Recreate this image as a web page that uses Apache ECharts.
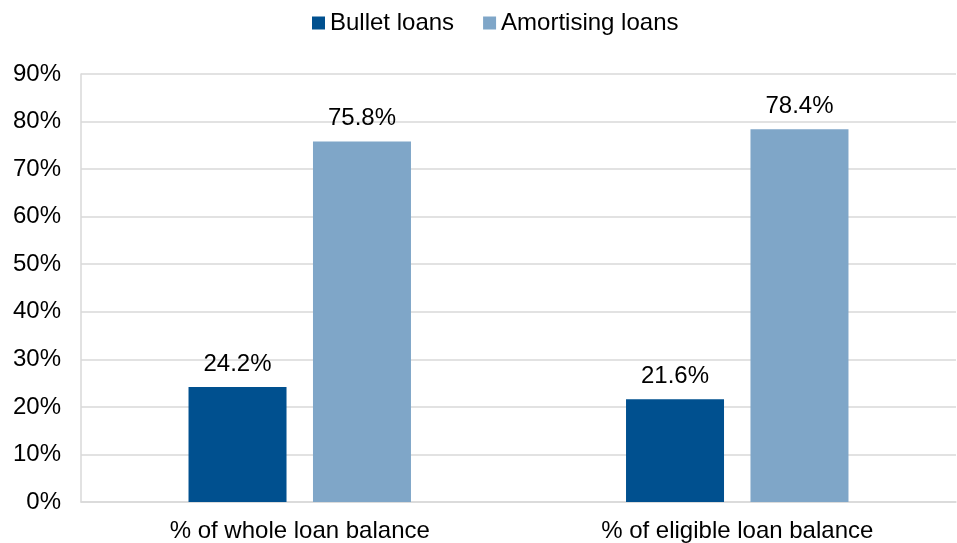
<!DOCTYPE html>
<html><head><meta charset="utf-8">
<script src="https://cdn.jsdelivr.net/npm/echarts@6/dist/echarts.min.js"></script>
<style>html,body{margin:0;padding:0;background:#fff}#c{width:957px;height:543px}</style>
</head><body><div id="c"></div>
<script>
const categories = ['% of whole loan balance', '% of eligible loan balance'];
const bulletLoans = [24.2, 21.6];
const amortisingLoans = [75.8, 78.4];
const seriesNames = ['Bullet loans', 'Amortising loans'];

const font = 'Liberation Sans, Arial, sans-serif';
const fs = 24;
const chart = echarts.init(document.getElementById('c'));
chart.setOption({
  animation: false,
  textStyle: { fontFamily: font },
  legend: {
    top: 11, left: 312, itemWidth: 13, itemHeight: 13, itemGap: 29,
    icon: 'rect', padding: 0,
    textStyle: { fontSize: fs, color: '#000', fontFamily: font },
    data: seriesNames
  },
  grid: { left: 81, right: 1, top: 74, bottom: 40, containLabel: false },
  xAxis: {
    type: 'category', data: categories,
    axisLine: { lineStyle: { color: '#d9d9d9', width: 1.5 } },
    axisTick: { show: false },
    axisLabel: { fontSize: fs, color: '#000', margin: 17, fontFamily: font }
  },
  yAxis: {
    type: 'value', min: 0, max: 90, interval: 10,
    axisLine: { show: true, lineStyle: { color: '#d9d9d9', width: 1.5 } },
    axisTick: { show: false },
    splitLine: { lineStyle: { color: '#d9d9d9', width: 1.5 } },
    axisLabel: { fontSize: fs, color: '#000', margin: 20, formatter: '{value}%', fontFamily: font }
  },
  series: [
    { name: seriesNames[0], type: 'bar', data: bulletLoans, barWidth: 98, barGap: '27%',
      itemStyle: { color: '#00508F' },
      label: { show: true, position: 'top', distance: 11, fontSize: fs, color: '#000', formatter: p => p.value.toFixed(1) + '%', fontFamily: font } },
    { name: seriesNames[1], type: 'bar', data: amortisingLoans, barWidth: 98,
      itemStyle: { color: '#7FA6C8' },
      label: { show: true, position: 'top', distance: 11, fontSize: fs, color: '#000', formatter: p => p.value.toFixed(1) + '%', fontFamily: font } }
  ]
});
</script></body></html>
